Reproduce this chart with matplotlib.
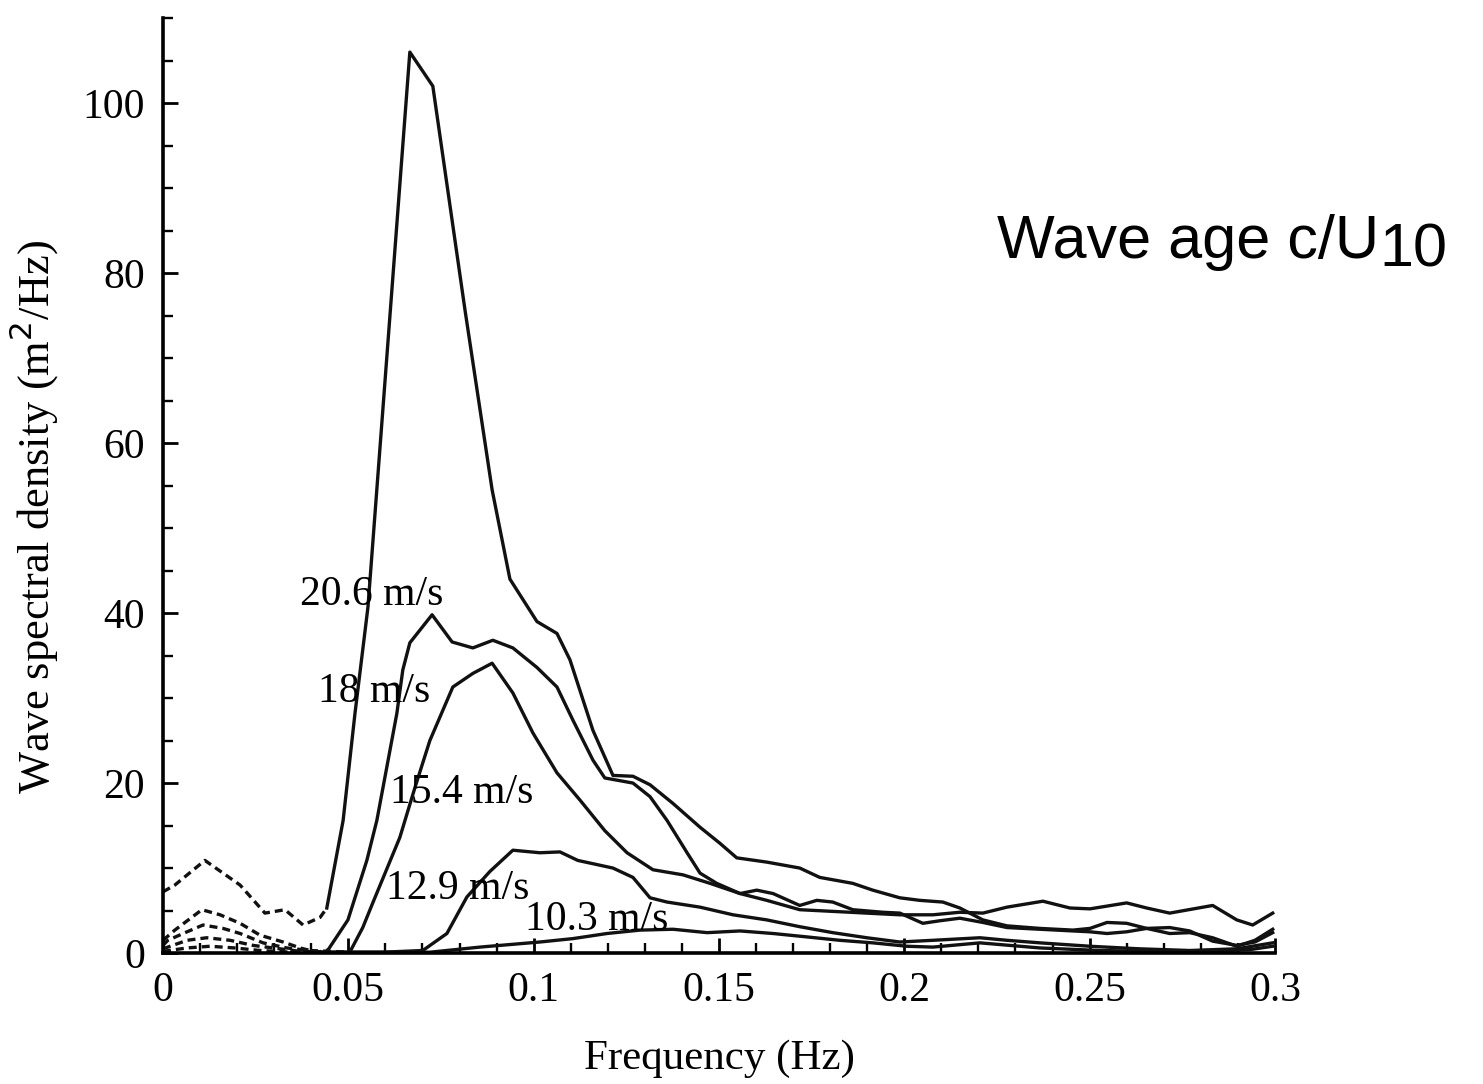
"""Wave spectral density for several wind speeds."""
import matplotlib
matplotlib.use("Agg")
import matplotlib.pyplot as plt
from matplotlib.ticker import MultipleLocator, FormatStrFormatter

# Solid parts of the spectra (frequency in Hz, density in m2/Hz)
f_206 = [0.0442, 0.0486, 0.0518, 0.0553, 0.0666, 0.0728, 0.0815, 0.0842, 0.0888,
         0.0936, 0.1009, 0.1063, 0.1098, 0.1160, 0.1214, 0.1268, 0.1314, 0.1376,
         0.1449, 0.1503, 0.1548, 0.1629, 0.1718, 0.1772, 0.1861, 0.1915, 0.1988,
         0.2042, 0.2104, 0.2150, 0.2212, 0.2277, 0.2366, 0.2455, 0.2501, 0.2547,
         0.2600, 0.2654, 0.2716, 0.2770, 0.2832, 0.2897, 0.2946, 0.2994]
s_206 = [5.3, 15.6, 28.2, 40.7, 106.0, 102.0, 75.6, 67.8, 54.5,
         44.0, 39.0, 37.6, 34.5, 26.2, 20.9, 20.8, 19.8, 17.6,
         14.8, 12.9, 11.2, 10.7, 10.0, 8.9, 8.2, 7.4, 6.5,
         6.2, 6.0, 5.3, 3.9, 3.2, 2.9, 2.7, 2.9, 3.6,
         3.5, 2.9, 3.0, 2.6, 1.4, 0.9, 1.3, 2.4]

f_18 = [0.0445, 0.0499, 0.0550, 0.0577, 0.0631, 0.0647, 0.0666, 0.0726, 0.0780,
        0.0836, 0.0890, 0.0944, 0.1009, 0.1063, 0.1106, 0.1160, 0.1192, 0.1268,
        0.1314, 0.1360, 0.1414, 0.1449, 0.1494, 0.1557, 0.1602, 0.1646, 0.1718,
        0.1764, 0.1807, 0.1861, 0.1942, 0.1988, 0.2050, 0.2096, 0.2150, 0.2212,
        0.2277, 0.2366, 0.2455, 0.2501, 0.2547, 0.2600, 0.2654, 0.2716, 0.2770,
        0.2832, 0.2897, 0.2946, 0.2994]
s_18 = [0.35, 3.9, 10.9, 15.6, 28.2, 33.3, 36.5, 39.8, 36.6,
        35.9, 36.8, 35.9, 33.6, 31.3, 27.4, 22.7, 20.6, 20.0,
        18.4, 15.6, 11.8, 9.4, 8.2, 7.0, 7.4, 7.0, 5.6,
        6.2, 6.0, 5.1, 4.8, 4.7, 3.5, 3.8, 4.1, 3.6,
        3.0, 2.8, 2.6, 2.5, 2.3, 2.5, 2.9, 2.3, 2.4,
        1.8, 0.8, 1.5, 2.8]

f_154 = [0.0504, 0.0539, 0.0566, 0.0639, 0.0680, 0.0720, 0.0782, 0.0836, 0.0888,
         0.0944, 0.0998, 0.1063, 0.1125, 0.1192, 0.1252, 0.1322, 0.1403, 0.1476,
         0.1557, 0.1629, 0.1718, 0.1853, 0.1988, 0.2077, 0.2150, 0.2212, 0.2277,
         0.2374, 0.2447, 0.2501, 0.2600, 0.2654, 0.2716, 0.2832, 0.2897, 0.2940,
         0.2994]
s_154 = [0.1, 3.0, 5.9, 13.6, 19.5, 25.0, 31.3, 32.9, 34.1,
         30.6, 25.9, 21.2, 18.0, 14.4, 11.8, 9.8, 9.2, 8.2,
         7.0, 6.2, 5.1, 4.8, 4.5, 4.5, 4.8, 4.7, 5.4,
         6.1, 5.3, 5.2, 5.9, 5.3, 4.7, 5.6, 3.9, 3.3,
         4.7]

f_129 = [0.0450, 0.0593, 0.0701, 0.0766, 0.0820, 0.0882, 0.0944, 0.1017, 0.1071,
         0.1119, 0.1214, 0.1268, 0.1314, 0.1360, 0.1449, 0.1538, 0.1629, 0.1718,
         0.1807, 0.1899, 0.1988, 0.2077, 0.2204, 0.2277, 0.2366, 0.2501, 0.2634,
         0.2770, 0.2897, 0.2994]
s_129 = [0.1, 0.1, 0.3, 2.3, 6.6, 9.6, 12.1, 11.8, 11.9,
         10.9, 10.0, 8.9, 6.5, 6.0, 5.4, 4.5, 3.9, 3.1,
         2.4, 1.8, 1.3, 1.5, 1.8, 1.5, 1.2, 0.8, 0.5,
         0.3, 0.5, 1.2]

f_103 = [0.0442, 0.0720, 0.0855, 0.1017, 0.1106, 0.1198, 0.1287, 0.1376, 0.1468,
         0.1557, 0.1646, 0.1737, 0.1826, 0.1915, 0.2007, 0.2077, 0.2204, 0.2366,
         0.2528, 0.2661, 0.2797, 0.2932, 0.2994]
s_103 = [0.1, 0.1, 0.7, 1.3, 1.7, 2.3, 2.7, 2.8, 2.4,
         2.6, 2.3, 1.9, 1.5, 1.2, 0.8, 0.7, 1.2, 0.6,
         0.3, 0.2, 0.2, 0.4, 0.8]

# Dashed low-frequency parts
fd_206 = [0.0, 0.0032, 0.0113, 0.0208, 0.0275, 0.0329, 0.0378, 0.0424, 0.0442]
sd_206 = [7.2, 8.0, 10.9, 8.0, 4.7, 5.1, 3.3, 4.2, 5.3]
fd_18 = [0.0, 0.0032, 0.0105, 0.0154, 0.0208, 0.0262, 0.0324, 0.0370, 0.0415, 0.0445]
sd_18 = [1.5, 2.7, 5.1, 4.5, 3.5, 2.1, 1.3, 0.6, 0.1, 0.35]
fd_154 = [0.0, 0.0013, 0.0065, 0.0108, 0.0162, 0.0208, 0.0270, 0.0334, 0.0396, 0.0504]
sd_154 = [0.9, 1.5, 2.5, 3.3, 2.9, 2.3, 1.2, 0.6, 0.3, 0.1]
fd_129 = [0.0, 0.0065, 0.0118, 0.0181, 0.0243, 0.0297, 0.0370, 0.0450]
sd_129 = [0.5, 1.5, 1.8, 1.5, 0.9, 0.6, 0.2, 0.1]
fd_103 = [0.0, 0.0065, 0.0127, 0.0194, 0.0262, 0.0343, 0.0442]
sd_103 = [0.2, 0.6, 0.8, 0.6, 0.3, 0.1, 0.1]

labels = ["20.6 m/s", "18 m/s", "15.4 m/s", "12.9 m/s", "10.3 m/s"]
label_pos = [(0.0564, 42.2), (0.0570, 30.7), (0.0807, 18.9), (0.0796, 7.6), (0.1171, 3.9)]

serif = "Liberation Serif"

fig = plt.figure(figsize=(14.83, 10.84), dpi=100)
ax = fig.add_axes([0.1099, 0.1208, 0.7498, 0.8625])

solid = [(f_206, s_206), (f_18, s_18), (f_154, s_154), (f_129, s_129), (f_103, s_103)]
dashed = [(fd_206, sd_206), (fd_18, sd_18), (fd_154, sd_154), (fd_129, sd_129), (fd_103, sd_103)]
for f, s in solid:
    ax.plot(f, s, color="#111111", lw=2.4)
for f, s in dashed:
    ax.plot(f, s, color="#111111", lw=2.4, linestyle=(0, (2.4, 1.5)))

for txt, (x, y) in zip(labels, label_pos):
    ax.text(x, y, txt, fontsize=30, family=serif, ha="center", va="center")

ax.set_xlim(0, 0.3)
ax.set_ylim(0, 110)
ax.xaxis.set_major_locator(MultipleLocator(0.05))
ax.xaxis.set_minor_locator(MultipleLocator(0.01))
ax.yaxis.set_major_locator(MultipleLocator(20))
ax.yaxis.set_minor_locator(MultipleLocator(5))
ax.xaxis.set_major_formatter(FormatStrFormatter("%g"))

for side in ["top", "right"]:
    ax.spines[side].set_visible(False)
for side in ["left", "bottom"]:
    ax.spines[side].set_linewidth(2.6)

ax.tick_params(which="major", direction="in", length=11, width=2.0, labelsize=30, pad=13)
ax.tick_params(which="minor", direction="in", length=7, width=1.7)
for lab in ax.get_xticklabels() + ax.get_yticklabels():
    lab.set_family(serif)

ax.set_xlabel("Frequency (Hz)", fontsize=31, family=serif)
ax.xaxis.set_label_coords(0.5, -0.092)
ax.set_ylabel("Wave spectral density (m$^2$/Hz)", fontsize=32, family=serif)
ax.yaxis.set_label_coords(-0.092, 0.466)

t1 = fig.text(997 / 1483, 1 - 258 / 1084, "Wave age c/U", fontsize=44,
              family="Liberation Sans", ha="left", va="baseline")
ax.annotate("10", xy=(1, 0), xycoords=t1, xytext=(0, 3), textcoords="offset points",
            fontsize=44, family="Liberation Sans",
            ha="left", va="baseline", annotation_clip=False)

fig.savefig("out.png", dpi=100, facecolor="white")
